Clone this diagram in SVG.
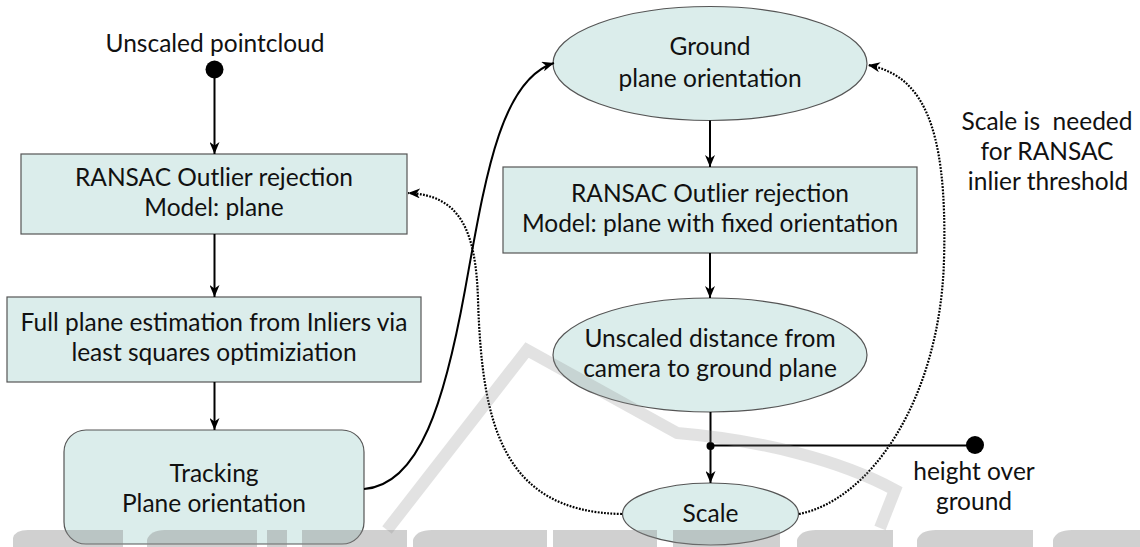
<svg xmlns="http://www.w3.org/2000/svg" width="1140" height="547" viewBox="0 0 1140 547">
  <style>
    .t { font-family: Lato, "Open Sans", "Noto Sans", sans-serif; font-size: 24.5px; fill: #111; text-anchor: middle; }
    .box { fill: #dbedeb; stroke: #555; stroke-width: 1.2; }
    .edge { fill: none; stroke: #000; stroke-width: 2; }
    .dot { fill: none; stroke: #000; stroke-width: 2.2; stroke-dasharray: 1.8 1.4; }
    .wm { fill: #8a8a8a; opacity: 0.4; }
    .wml { fill: none; stroke: #8a8a8a; stroke-width: 12; opacity: 0.25; }
  </style>
  <defs>
    <marker id="arr" viewBox="0 0 12 10" refX="12" refY="5" markerWidth="12" markerHeight="10" markerUnits="userSpaceOnUse" orient="auto">
      <path d="M0,0 L12,5 L0,10 L3.5,5 Z" fill="#000"/>
    </marker>
  </defs>
  <rect width="1140" height="547" fill="#fff"/>

  <g id="start">
    <text class="t" x="215" y="52">Unscaled pointcloud</text>
    <circle cx="214.5" cy="69.5" r="9" fill="#000"/>
  </g>

  <g id="ransac1">
    <rect class="box" x="21" y="154" width="386" height="80"/>
    <text class="t" x="214" y="186">RANSAC Outlier rejection</text>
    <text class="t" x="214" y="216">Model: plane</text>
  </g>

  <g id="fullplane">
    <rect class="box" x="7" y="297" width="414" height="85"/>
    <text class="t" x="214" y="331">Full plane estimation from Inliers via</text>
    <text class="t" x="214" y="361">least squares optimiziation</text>
  </g>

  <g id="tracking">
    <rect class="box" x="64" y="430" width="300" height="114" rx="22" ry="22"/>
    <text class="t" x="214" y="482">Tracking</text>
    <text class="t" x="214" y="512">Plane orientation</text>
  </g>

  <g id="ground">
    <ellipse class="box" cx="710" cy="63.5" rx="157" ry="57"/>
    <text class="t" x="710" y="55">Ground</text>
    <text class="t" x="710" y="87">plane orientation</text>
  </g>

  <g id="ransac2">
    <rect class="box" x="503" y="167" width="414" height="86"/>
    <text class="t" x="710" y="202">RANSAC Outlier rejection</text>
    <text class="t" x="710" y="232">Model: plane with fixed orientation</text>
  </g>

  <g id="distance">
    <ellipse class="box" cx="710" cy="355" rx="157" ry="57"/>
    <text class="t" x="710" y="347">Unscaled distance from</text>
    <text class="t" x="710" y="377">camera to ground plane</text>
  </g>

  <g id="scale">
    <ellipse class="box" cx="710.5" cy="514" rx="88" ry="31"/>
    <text class="t" x="710.5" y="522">Scale</text>
  </g>

  <g id="height">
    <circle cx="975" cy="445" r="9" fill="#000"/>
    <text class="t" x="974" y="480">height over</text>
    <text class="t" x="974" y="510">ground</text>
  </g>

  <g id="note">
    <text class="t" x="1047" y="130" style="white-space:pre">Scale is  needed</text>
    <text class="t" x="1047" y="160">for RANSAC</text>
    <text class="t" x="1048" y="190">inlier threshold</text>
  </g>

  <g id="connectors">
    <line class="edge" x1="214.5" y1="78" x2="214.5" y2="154" marker-end="url(#arr)"/>
    <line class="edge" x1="214.5" y1="234" x2="214.5" y2="297" marker-end="url(#arr)"/>
    <line class="edge" x1="214.5" y1="382" x2="214.5" y2="430" marker-end="url(#arr)" stroke-width="2.5"/>
    <path class="edge" d="M364,489 C420,485 445,400 465,290 C485,180 500,80 554,63" marker-end="url(#arr)"/>
    <line class="edge" x1="710" y1="120.5" x2="710" y2="167" marker-end="url(#arr)"/>
    <line class="edge" x1="710" y1="253" x2="710" y2="298" marker-end="url(#arr)"/>
    <line class="edge" x1="710.5" y1="412" x2="710.5" y2="483" marker-end="url(#arr)"/>
    <circle cx="710.5" cy="446" r="4" fill="#000"/>
    <line class="edge" x1="710.5" y1="445.5" x2="975" y2="445.5"/>
    <path class="dot" d="M622,514 C500,512 482,420 478,300 C476,230 460,195 408,193" marker-end="url(#arr)"/>
    <path class="dot" d="M799,514 C870,500 940,400 944,260 C948,120 920,75 868,65" marker-end="url(#arr)"/>
  </g>

  <g id="watermark">
    <path class="wml" d="M387,530 L527,350 L677,433 C760,440 840,460 895,490 L880,528"/>
    <path class="wm" d="M13,547 L13,538 Q15,530 28,530 L123,530 L123,547 Z"/>
    <path class="wm" d="M147,547 L147,540 Q150,530 165,530 L257,530 L257,547 Z"/>
    <rect class="wm" x="267" y="530" width="20" height="17"/>
    <rect class="wm" x="302" y="530" width="105" height="17"/>
    <path class="wm" d="M413,547 L413,540 Q416,530 432,530 L547,530 L547,547 Z"/>
    <rect class="wm" x="553" y="530" width="104" height="17"/>
    <rect class="wm" x="673" y="530" width="107" height="17"/>
    <path class="wm" d="M797,547 L797,540 Q800,530 816,530 L893,530 L893,547 Z"/>
    <path class="wm" d="M917,547 L917,540 Q920,530 936,530 L1033,530 L1033,547 Z"/>
    <path class="wm" d="M1053,547 L1053,540 Q1056,530 1072,530 L1140,530 L1140,547 Z"/>
  </g>
</svg>
